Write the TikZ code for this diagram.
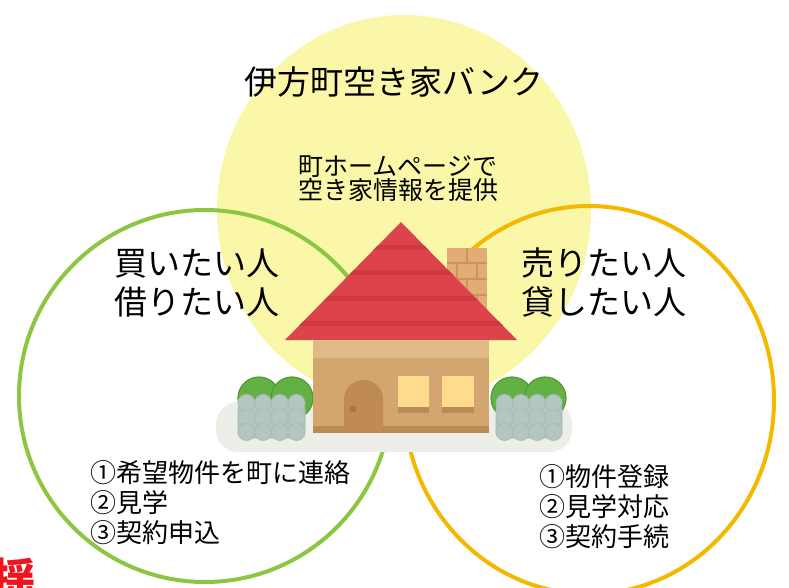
\documentclass[tikz,border=0pt]{standalone}
\usepackage{fontspec}
\setmainfont{Noto Sans CJK JP}
\usetikzlibrary{positioning}

\definecolor{bankyellow}{HTML}{FAF7A8}
\definecolor{buygreen}{HTML}{8DC642}
\definecolor{sellorange}{HTML}{F4B800}
\definecolor{roofred}{HTML}{DD434B}
\definecolor{roofline}{HTML}{CF3941}
\definecolor{wallbrown}{HTML}{D3A56F}
\definecolor{wallband}{HTML}{DDBA87}
\definecolor{wallbase}{HTML}{B98A51}
\definecolor{doorbrown}{HTML}{C08A56}
\definecolor{knob}{HTML}{A87444}
\definecolor{windowyellow}{HTML}{FFDB8E}
\definecolor{sill}{HTML}{B98B56}
\definecolor{brick}{HTML}{E3AC74}
\definecolor{brickline}{HTML}{CC945D}
\definecolor{bushgreen}{HTML}{63B144}
\definecolor{bushdark}{HTML}{4F9A33}
\definecolor{hedgegray}{HTML}{B5C6C1}
\definecolor{hedgeline}{HTML}{A9BBB5}
\definecolor{groundgray}{HTML}{EEEEE8}
\definecolor{markred}{HTML}{F0141E}

\begin{document}
\begin{tikzpicture}[x=1bp, y=-1bp, line join=round]
    \tikzset{
        headline/.style={font=\fontsize{33bp}{38bp}\selectfont, align=center, inner sep=0pt},
        bigtext/.style={font=\fontsize{33bp}{39bp}\selectfont, align=left, inner sep=0pt},
        smalltext/.style={font=\fontsize{25bp}{24bp}\selectfont, align=center, inner sep=0pt},
        steptext/.style={font=\fontsize{26bp}{30bp}\selectfont, align=left, inner sep=0pt, anchor=west},
        ring/.style={line width=4bp},
        bush/.style={fill=bushgreen, draw=bushdark, line width=1.2bp},
        hedge/.style={fill=hedgegray, draw=hedgeline, line width=0.8bp}
    }
    \useasboundingbox (0,0) rectangle (789,588);
    \clip (0,0) rectangle (789,588);

    % Circles
    \fill[bankyellow] (404,210) ellipse [x radius=187, y radius=195];
    \draw[ring, buygreen] (205,396) circle [radius=186];
    \draw[ring, sellorange] (589,400) ellipse [x radius=185, y radius=194];

    % Ground and garden
    \fill[groundgray, rounded corners=22] (216,402) rectangle (572,452);
    \foreach \x in {259,292,512,545}
        \path[bush] (\x,398) circle [radius=21];
    \foreach \x/\w in {238/305, 496/562} {
        \path[hedge, rounded corners=6] (\x,404) rectangle (\w,438);
        \foreach \r in {403,418,432}
            \foreach \k in {0,1,2,3}
                \path[hedge] ({\x+8.5+\k*(\w-\x-17)/3},\r) circle [radius=8.5];
    }

    % Chimney
    \fill[brick] (447,248) rectangle (487,335);
    \foreach \y in {263,279,295,311}
        \draw[brickline, line width=1.5bp] (447,\y) -- (487,\y);
    \foreach \x/\y in {467/248, 457/263, 477/263, 467/279, 457/295, 477/295, 467/311}
        \draw[brickline, line width=1.5bp] (\x,\y) -- (\x,\y+16);

    % Roof
    \fill[roofred] (401,222) -- (517,340) -- (285,340) -- cycle;
    \begin{scope}
        \clip (401,222) -- (517,340) -- (285,340) -- cycle;
        \foreach \y in {245,270,296,321}
            \fill[roofline] (280,\y) rectangle (520,\y+5);
    \end{scope}

    % Walls, door and windows
    \fill[wallbrown] (313,340) rectangle (489,432);
    \fill[wallband] (313,340) rectangle (489,358);
    \fill[wallbase] (313,426) rectangle (489,433);
    \fill[doorbrown] (344,432) -- (344,399)
        arc [start angle=180, end angle=360, x radius=19.5, y radius=19] -- (383,432) -- cycle;
    \fill[knob] (353,409) circle [radius=3.5];
    \foreach \x/\w in {398/429, 442/474} {
        \fill[windowyellow] (\x,376) rectangle (\w,407);
        \fill[sill] (\x,407) rectangle (\w,413);
    }

    % Labels
    \node[headline] (title) at (394,82) {伊方町空き家バンク};
    \node[smalltext] (info) at (398,179) {町ホームページで\\空き家情報を提供};
    \node[bigtext] (buyer) at (197,283) {買いたい人\\借りたい人};
    \node[bigtext] (seller) at (604,283) {売りたい人\\貸したい人};
    \node[steptext] (buysteps) at (90,503) {①希望物件を町に連絡\\②見学\\③契約申込};
    \node[steptext] (sellsteps) at (539,507) {①物件登録\\②見学対応\\③契約手続};
    \node[font=\fontsize{44bp}{44bp}\selectfont\bfseries, text=markred, anchor=base west, inner sep=0pt] (mark) at (-9,595) {揺};
\end{tikzpicture}
\end{document}
